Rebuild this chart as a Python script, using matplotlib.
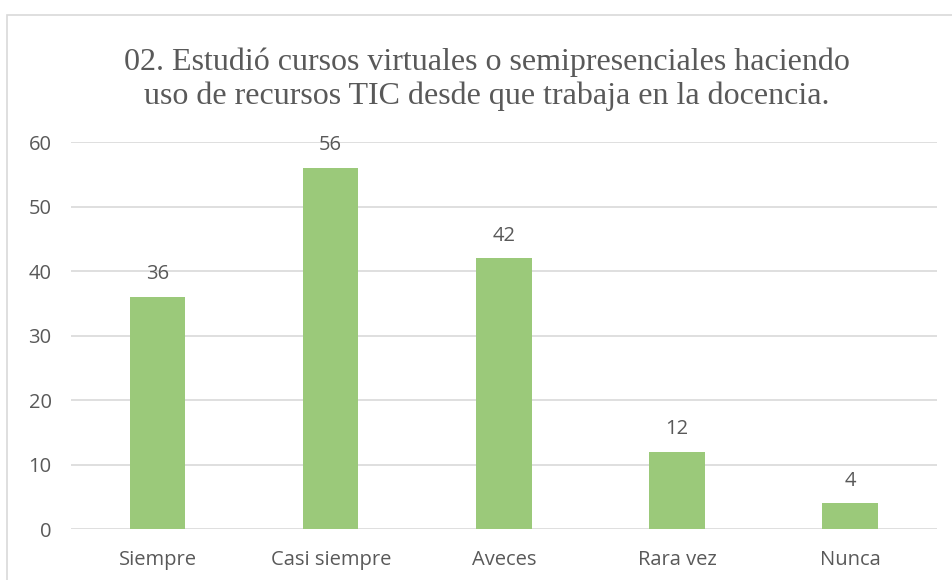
import matplotlib.pyplot as plt
from matplotlib.patches import Rectangle

# datos del grafico
categorias = ["Siempre", "Casi siempre", "Aveces", "Rara vez", "Nunca"]
valores = [36, 56, 42, 12, 4]
yticks = [0, 10, 20, 30, 40, 50, 60]

titulo = ("02. Estudió cursos virtuales o semipresenciales haciendo\n"
          "uso de recursos TIC desde que trabaja en la docencia.")

gris = "#595959"
verde = "#9BC97A"

fig = plt.figure(figsize=(9.52, 5.8), dpi=100)
ax = fig.add_axes([0.0746, 0.0879, 0.9094, 0.6672])

# marco del area del grafico (cortado a la derecha y abajo)
fig.patches.append(Rectangle((7 / 952, -0.05), 1.2, 1 - 15 / 580 + 0.05,
                             transform=fig.transFigure, fill=False,
                             edgecolor="#D9D9D9", linewidth=1.2))

barras = ax.bar(categorias, valores, width=0.32, color=verde, zorder=3)
ax.bar_label(barras, padding=9, fontsize=14.5, color=gris, family="Open Sans")

ax.set_ylim(0, 60)
ax.set_xlim(-0.5, 4.5)
ax.set_yticks(yticks)
ax.yaxis.grid(True, color="#D9D9D9", linewidth=1.2, zorder=0)
ax.tick_params(length=0, labelsize=14.5, labelcolor=gris)
ax.tick_params(axis="x", pad=15)
ax.tick_params(axis="y", pad=14)
for lab in ax.get_xticklabels() + ax.get_yticklabels():
    lab.set_family("Open Sans")
for s in ax.spines.values():
    s.set_visible(False)

fig.text(0.5116, 0.864, titulo, ha="center", va="center", fontsize=23,
         family="Liberation Serif", color=gris, linespacing=1.2)

plt.savefig("out.png")
